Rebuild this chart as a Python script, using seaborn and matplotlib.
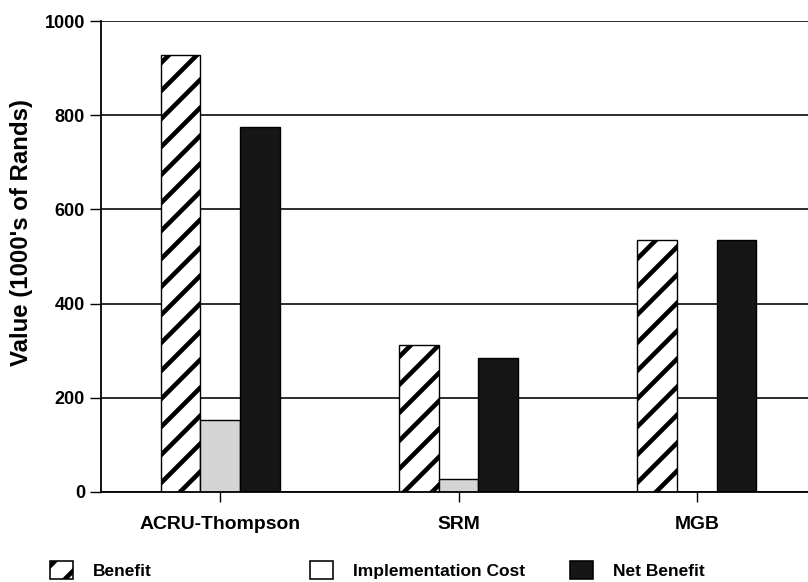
import matplotlib
matplotlib.use("Agg")
import matplotlib.pyplot as plt
from matplotlib.patches import Patch
import seaborn as sns
import pandas as pd

categories = ["ACRU-Thompson", "SRM", "MGB"]
series_names = ["Benefit", "Implementation Cost", "Net Benefit"]
benefit = [927, 312, 535]
impl_cost = [152, 28, 0]
net_benefit = [775, 284, 535]
y_ticks = [0, 200, 400, 600, 800, 1000]

df = pd.DataFrame({
    "Model": categories * 3,
    "Series": [series_names[0]] * 3 + [series_names[1]] * 3 + [series_names[2]] * 3,
    "Value": benefit + impl_cost + net_benefit,
})

DPI = 84


def pt(px):
    return px * 72.0 / DPI


sns.set_theme(style="white")
plt.rcParams["font.family"] = ["Liberation Sans", "DejaVu Sans"]
plt.rcParams["font.weight"] = "bold"
plt.rcParams["text.color"] = "black"
plt.rcParams["axes.labelcolor"] = "black"
plt.rcParams["xtick.color"] = "black"
plt.rcParams["ytick.color"] = "black"
plt.rcParams["hatch.linewidth"] = pt(4.6)
plt.rcParams["hatch.color"] = "black"

W, H = 808, 582
fig = plt.figure(figsize=(W / DPI, H / DPI), dpi=DPI)
ax = fig.add_axes([101 / W, (H - 492) / H, (816 - 101) / W, (492 - 21) / H])

fill = {"Benefit": "white", "Implementation Cost": "#d4d4d4", "Net Benefit": "#161616"}
sns.barplot(data=df, x="Model", y="Value", hue="Series", order=categories,
            hue_order=series_names, palette=fill, width=0.5, ax=ax,
            edgecolor="black", linewidth=pt(1.4), saturation=1, legend=False)

for cont, name in zip(ax.containers, series_names):
    for bar in cont:
        bar.set_edgecolor("black")
        if name == "Benefit":
            bar.set_hatch("/")

ax.set_xlim(-0.5, 2.5)
ax.set_ylim(0, 1000)
ax.set_yticks(y_ticks)
ax.yaxis.grid(True, color="#1a1a1a", linewidth=pt(1.8))
ax.set_axisbelow(True)
for s in ["top", "right"]:
    ax.spines[s].set_visible(False)
for s in ["left", "bottom"]:
    ax.spines[s].set_color("black")
    ax.spines[s].set_linewidth(pt(1.8))

ax.tick_params(axis="y", which="both", left=True, length=pt(11), width=pt(1.4),
               color="black", labelsize=pt(18), pad=pt(5))
ax.tick_params(axis="x", which="both", bottom=True, length=pt(10), width=pt(1.4),
               color="black", labelsize=pt(19.4), pad=pt(14))
for lab in ax.get_xticklabels() + ax.get_yticklabels():
    lab.set_fontweight("bold")
    lab.set_color("black")
ax.set_xlabel("")
ax.set_ylabel("Value (1000's of Rands)", fontsize=pt(24), fontweight="bold",
              color="black")
ax.yaxis.set_label_coords((33 - 101) / 715, (492 - 233) / 471)

fpx = 17.4
handles = [
    Patch(facecolor="white", edgecolor="black", hatch="/", linewidth=pt(1.6)),
    Patch(facecolor="white", edgecolor="black", linewidth=pt(1.6)),
    Patch(facecolor="#161616", edgecolor="black", linewidth=pt(1.6)),
]
patch_left = [50, 310, 570]
for h, name, xl in zip(handles, series_names, patch_left):
    fig.legend(handles=[h], labels=[name], loc="center left",
               bbox_to_anchor=(xl / W, (H - 570) / H), frameon=False,
               borderpad=0, borderaxespad=0,
               handlelength=23 / fpx, handleheight=22 / fpx,
               handletextpad=20 / fpx, labelcolor="black",
               prop={"size": pt(fpx), "weight": "bold", "family": "Liberation Sans"})

fig.savefig("out.png", dpi=DPI)
